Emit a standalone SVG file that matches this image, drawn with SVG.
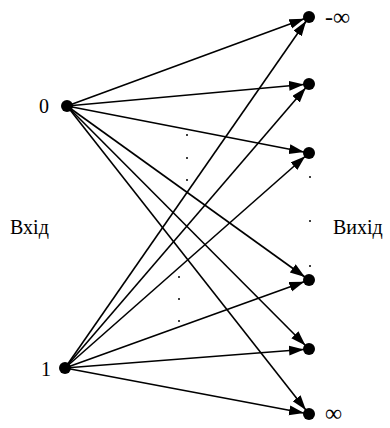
<svg xmlns="http://www.w3.org/2000/svg" width="390" height="428" viewBox="0 0 390 428">
<defs>
<style>
.e{stroke:#000;stroke-width:1.6;fill:none;marker-end:url(#ah)}
.n{fill:#000}
.d{fill:#000}
.t{font-family:"Liberation Serif","Times New Roman",serif;font-size:20px;fill:#000}
.inf{font-family:"Liberation Serif","Times New Roman",serif;font-size:24px;fill:#000}
</style>
<marker id="ah" markerUnits="userSpaceOnUse" markerWidth="22" markerHeight="12" viewBox="0 0 22 12" refX="20" refY="5" orient="auto">
<path d="M0,0 L15,5 L0,10 z" fill="#000"/>
</marker>
</defs>
<rect width="390" height="428" fill="#fff"/>
<g id="connectors">
<line class="e" x1="67" y1="106" x2="309" y2="17"/>
<line class="e" x1="67" y1="106" x2="309" y2="84"/>
<line class="e" x1="67" y1="106" x2="309" y2="153"/>
<line class="e" x1="67" y1="106" x2="309" y2="280"/>
<line class="e" x1="67" y1="106" x2="309" y2="349"/>
<line class="e" x1="67" y1="106" x2="309" y2="414"/>
<line class="e" x1="65" y1="368" x2="309" y2="17"/>
<line class="e" x1="65" y1="368" x2="309" y2="84"/>
<line class="e" x1="65" y1="368" x2="309" y2="153"/>
<line class="e" x1="65" y1="368" x2="309" y2="280"/>
<line class="e" x1="65" y1="368" x2="309" y2="349"/>
<line class="e" x1="65" y1="368" x2="309" y2="414"/>
</g>
<g id="in0"><circle class="n" cx="67" cy="106" r="6"/><text class="t" x="39" y="113">0</text></g>
<g id="in1"><circle class="n" cx="65" cy="368" r="6"/><text class="t" x="41" y="376">1</text></g>
<g id="out1"><circle class="n" cx="309" cy="17" r="6"/><text class="inf" x="325" y="25">-∞</text></g>
<g id="out2"><circle class="n" cx="309" cy="84" r="6"/></g>
<g id="out3"><circle class="n" cx="309" cy="153" r="6"/></g>
<g id="out4"><circle class="n" cx="309" cy="280" r="6"/></g>
<g id="out5"><circle class="n" cx="309" cy="349" r="6"/></g>
<g id="out6"><circle class="n" cx="309" cy="414" r="6"/><text class="inf" x="325" y="421">∞</text></g>
<g id="dots">
<circle class="d" cx="187" cy="135" r="1"/>
<circle class="d" cx="187" cy="158" r="1"/>
<circle class="d" cx="187" cy="180" r="1"/>
<circle class="d" cx="179" cy="277" r="1"/>
<circle class="d" cx="179" cy="299" r="1"/>
<circle class="d" cx="179" cy="321" r="1"/>
<circle class="d" cx="310" cy="177" r="1"/>
<circle class="d" cx="310" cy="221" r="1"/>
<circle class="d" cx="310" cy="266" r="1"/>
</g>
<text class="t" x="10" y="234">Вхід</text>
<text class="t" x="333" y="234">Вихід</text>
</svg>
